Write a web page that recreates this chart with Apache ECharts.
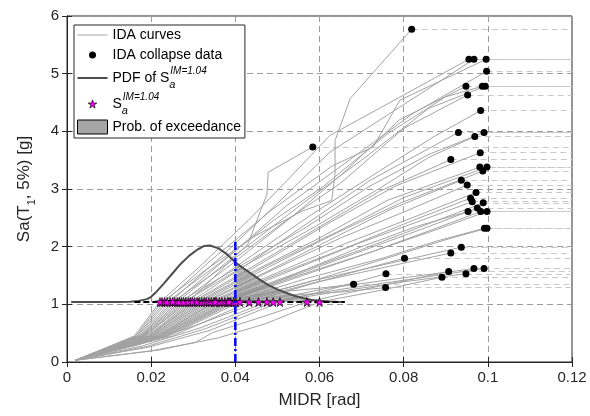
<!DOCTYPE html>
<html>
<head>
<meta charset="utf-8">
<title>IDA</title>
<script src="https://cdn.jsdelivr.net/npm/echarts@6/dist/echarts.min.js"></script>
<style>
html,body{margin:0;padding:0;background:#fff;}
#main{width:590px;height:416px;}
</style>
</head>
<body>
<div id="main"></div>
<script>
// IM level of the PDF / stars
var imLevel = 1.04;
var imDrift = 0.04;       // vertical blue line
var imLineTop = 2.13;
var dashStart = 0.016, dashEnd = 0.066;   // black dashed line at 1.04
var xMax = 0.12;
var origin = [0.002, 0.03];

// collapse points (end of each IDA curve)
var collapseX = [0.0819,0.0996,0.0967,0.0955,0.0997,0.0994,0.0987,0.0948,0.0952,0.0983,0.0991,0.0930,0.0969,0.0584,0.0982,0.0912,0.0998,0.0981,0.0988,0.0937,0.0951,0.0972,0.0959,0.0963,0.0989,0.0975,0.0983,0.0998,0.0953,0.0992,0.0998,0.0937,0.0912,0.0802,0.0967,0.0991,0.0948,0.0758,0.0907,0.0891,0.0681,0.0757];
var collapseY = [5.77,5.25,5.25,5.25,5.04,4.78,4.78,4.78,4.63,4.36,3.98,3.98,3.91,3.73,3.63,3.51,3.38,3.38,3.31,3.15,3.07,2.94,2.84,2.78,2.76,2.67,2.61,2.61,2.61,2.32,2.32,1.99,1.89,1.80,1.62,1.62,1.53,1.53,1.57,1.47,1.35,1.29];

// drift where each curve reaches Sa = 1.04 (stars)
var starX = [0.0226,0.0232,0.0245,0.0221,0.0256,0.0262,0.0238,0.0272,0.0251,0.0282,0.0267,0.0293,0.0277,0.0288,0.0303,0.0298,0.0314,0.0309,0.0320,0.0326,0.0331,0.0337,0.0343,0.0349,0.0355,0.0362,0.0368,0.0375,0.0382,0.0389,0.0396,0.0401,0.0411,0.0433,0.0455,0.0475,0.0490,0.0506,0.0570,0.0600,0.0352,0.0385];

// vertices below 1.04 for each curve
var lowerPts = [
  [[0.0163,0.45]],[[0.0166,0.45]],[[0.0171,0.45]],[[0.0160,0.45]],[[0.0176,0.45]],
  [[0.0178,0.45]],[[0.0168,0.45]],[[0.0182,0.45]],[[0.0173,0.45]],[[0.0187,0.45]],
  [[0.0180,0.45]],[[0.0191,0.45]],[[0.0185,0.45]],[[0.0184,0.45]],[[0.0196,0.45]],
  [[0.0193,0.45]],[[0.0199,0.45]],[[0.0194,0.45]],[[0.0202,0.45]],[[0.0200,0.45]],
  [[0.0207,0.45]],[[0.0205,0.45]],[[0.0211,0.45]],[[0.0215,0.45]],[[0.0213,0.45]],
  [[0.0219,0.45]],[[0.0221,0.45]],[[0.0225,0.45]],[[0.0222,0.45]],[[0.0229,0.45]],
  [[0.0233,0.45]],[[0.0237,0.45]],[[0.0241,0.45]],[[0.0250,0.45]],
  [[0.0170,0.30],[0.0300,0.62]],
  [[0.0180,0.28],[0.0320,0.60]],
  [[0.0190,0.27],[0.0330,0.58]],
  [[0.0195,0.26],[0.0340,0.55]],
  [[0.0198,0.19],[0.0305,0.34],[0.0346,0.51],[0.0450,0.75]],
  [[0.0220,0.21],[0.0360,0.42],[0.0470,0.66]],
  [[0.0216,0.45]],[[0.0231,0.45]]
];

// vertices between 1.04 and collapse for each curve
var upperPts = [
  [[0.0330,1.60],[0.0450,2.20],[0.0560,2.62],[0.0629,2.80],[0.0637,3.26],[0.0637,3.84],[0.0673,4.57]],
  [[0.0340,1.75],[0.0480,2.60],[0.0630,3.40],[0.0728,3.73],[0.0791,4.54]],
  [[0.0370,1.85],[0.0500,2.75],[0.0625,3.64]],
  [[0.0310,1.62],[0.0430,2.45],[0.0530,3.20],[0.0625,3.93]],
  [[0.0380,1.80],[0.0520,2.70],[0.0680,3.55],[0.0820,4.30]],
  [[0.0400,1.85],[0.0560,2.75],[0.0700,3.50],[0.0860,4.40]],
  [[0.0360,1.70],[0.0490,2.45],[0.0610,3.05],[0.0760,3.95],[0.0900,4.60]],
  [[0.0410,1.80],[0.0540,2.55],[0.0660,3.30],[0.0790,4.20]],
  [[0.0390,1.75],[0.0520,2.45],[0.0650,3.10],[0.0800,4.05]],
  [[0.0430,1.80],[0.0580,2.55],[0.0740,3.30],[0.0870,3.90]],
  [[0.0420,1.70],[0.0560,2.30],[0.0720,3.05],[0.0860,3.60]],
  [[0.0440,1.75],[0.0580,2.45],[0.0720,3.15]],
  [[0.0430,1.70],[0.0590,2.35],[0.0740,3.00],[0.0860,3.55]],
  [[0.0360,1.55],[0.0430,2.05],[0.0475,2.91],[0.0478,3.29]],
  [[0.0460,1.70],[0.0620,2.40],[0.0780,3.05]],
  [[0.0440,1.65],[0.0590,2.30],[0.0740,2.95]],
  [[0.0470,1.65],[0.0640,2.25],[0.0800,2.85]],
  [[0.0450,1.60],[0.0600,2.15],[0.0760,2.80]],
  [[0.0480,1.65],[0.0630,2.20],[0.0790,2.75]],
  [[0.0470,1.55],[0.0620,2.10],[0.0770,2.65]],
  [[0.0490,1.60],[0.0650,2.15],[0.0800,2.60]],
  [[0.0500,1.55],[0.0660,2.05],[0.0820,2.50]],
  [[0.0510,1.55],[0.0670,2.00],[0.0820,2.45]],
  [[0.0520,1.55],[0.0690,2.05],[0.0840,2.45]],
  [[0.0530,1.50],[0.0700,1.95],[0.0860,2.40]],
  [[0.0540,1.50],[0.0710,1.95],[0.0860,2.35]],
  [[0.0550,1.50],[0.0720,1.90],[0.0870,2.30]],
  [[0.0560,1.50],[0.0740,1.95],[0.0880,2.30]],
  [[0.0550,1.55],[0.0700,2.00],[0.0830,2.35]],
  [[0.0570,1.45],[0.0750,1.80],[0.0880,2.10]],
  [[0.0580,1.40],[0.0760,1.80],[0.0900,2.12]],
  [[0.0580,1.40],[0.0760,1.70]],
  [[0.0590,1.38],[0.0760,1.65]],
  [[0.0580,1.35],[0.0700,1.60]],
  [[0.0620,1.28],[0.0800,1.46]],
  [[0.0650,1.26],[0.0830,1.45]],
  [[0.0660,1.24],[0.0810,1.40]],
  [[0.0620,1.25]],
  [[0.0700,1.25]],
  [[0.0750,1.25]],
  [[0.0480,1.20],[0.0600,1.28]],
  [[0.0520,1.15],[0.0660,1.22]]
];

// PDF of Sa at IM = 1.04 (drawn on top of the 1.04 baseline)
var pdfX = [0.001,0.012,0.015,0.017,0.019,0.020,0.021,0.023,0.025,0.027,0.029,0.031,0.0325,0.034,0.036,0.038,0.040,0.042,0.044,0.046,0.048,0.050,0.052,0.054,0.056,0.058,0.060,0.062,0.064,0.066];
var pdfY = [1.04,1.04,1.045,1.06,1.09,1.13,1.20,1.36,1.53,1.70,1.84,1.95,2.01,2.02,1.97,1.87,1.73,1.62,1.52,1.42,1.33,1.26,1.20,1.15,1.11,1.08,1.06,1.05,1.043,1.04];

var fontFam = '"Liberation Sans", Arial, Helvetica, sans-serif';
var starPath = 'path://M50 0L61 35L98 35L68 57L79 91L50 70L21 91L32 57L2 35L39 35Z';
var series = [];

// dashed continuation after collapse
var flatData = collapseX.map(function (cx, i) {
  return { coords: [[cx, collapseY[i]], [xMax, collapseY[i]]] };
});
series.push({
  type: 'lines', coordinateSystem: 'cartesian2d', name: 'flat', silent: true,
  data: flatData,
  lineStyle: { color: '#c9c9c9', width: 1.2, type: [6, 4], opacity: 1 },
  z: 1
});

// IDA curves
collapseX.forEach(function (cx, i) {
  var pts = [origin].concat(lowerPts[i], [[starX[i], imLevel]], upperPts[i], [[cx, collapseY[i]]]);
  series.push({
    type: 'line', name: 'IDA curves', data: pts, showSymbol: false, symbol: 'none',
    lineStyle: { color: '#a3a3a3', width: 1 }, itemStyle: { color: '#a3a3a3' },
    z: 2, animation: false
  });
});

var pdfData = pdfX.map(function (x, i) { return [x, pdfY[i]]; });
var tailData = pdfData.filter(function (p) { return p[0] >= imDrift; });

// shaded exceedance area: one slice per PDF segment, between the tail and 1.04
series.push({
  type: 'custom', name: 'Prob. of exceedance', data: tailData,
  itemStyle: { color: '#a6a6a6' }, z: 3,
  renderItem: function (params, api) {
    var i = params.dataIndex;
    if (i >= tailData.length - 1) return;
    var a = tailData[i], b = tailData[i + 1];
    return { type: 'polygon',
      shape: { points: [api.coord(a), api.coord(b), api.coord([b[0], imLevel]), api.coord([a[0], imLevel])] },
      style: { fill: '#8c8c8c', opacity: 0.6 } };
  }
});
series.push({
  type: 'line', name: 'PDF', data: pdfData, symbol: 'none',
  lineStyle: { color: '#4d4d4d', width: 2 }, itemStyle: { color: '#4d4d4d' }, z: 4
});
series.push({
  type: 'line', name: 'base', data: [[dashStart, imLevel], [dashEnd, imLevel]], symbol: 'none',
  lineStyle: { color: '#000', width: 2, type: [6, 3] }, z: 5, silent: true
});
series.push({
  type: 'scatter', name: 'Sa', data: starX.map(function (x) { return [x, imLevel]; }),
  symbol: starPath, symbolSize: 9,
  itemStyle: { color: '#ff00ff', borderColor: '#000', borderWidth: 0.7, opacity: 1 }, z: 6
});
series.push({
  type: 'scatter', name: 'IDA collapse data',
  data: collapseX.map(function (x, i) { return [x, collapseY[i]]; }),
  symbol: 'circle', symbolSize: 7, itemStyle: { color: '#000', opacity: 1 }, z: 7
});
series.push({
  type: 'line', name: 'im', data: [[imDrift, 0], [imDrift, imLineTop]], symbol: 'none',
  lineStyle: { color: '#0000ff', width: 2.5, type: [8, 3, 2, 3] }, z: 8, silent: true
});

var legendText = {
  'IDA curves': 'IDA curves',
  'IDA collapse data': 'IDA collapse data',
  'PDF': 'PDF of S{sb|a}{sp|IM=1.04}',
  'Sa': 'S{sb|a}{sp|IM=1.04}',
  'Prob. of exceedance': 'Prob. of exceedance'
};

var chart = echarts.init(document.getElementById('main'), null, { renderer: 'canvas' });
var axisCommon = {
  axisLine: { lineStyle: { color: '#262626', width: 1 } },
  axisTick: { inside: true, length: 5, lineStyle: { color: '#262626' } }
};
chart.setOption({
  animation: false,
  backgroundColor: '#fff',
  textStyle: { fontFamily: fontFam },
  grid: { left: 67, right: 18, top: 16, bottom: 54, show: true, borderColor: '#262626', borderWidth: 1 },
  legend: {
    orient: 'vertical', left: 74, top: 25,
    backgroundColor: '#fff', borderColor: '#262626', borderWidth: 1,
    padding: [1, 4, 2, 3], itemGap: 2, itemWidth: 30, itemHeight: 14,
    formatter: function (n) { return legendText[n]; },
    textStyle: {
      fontFamily: fontFam, fontSize: 14, color: '#000', lineHeight: 18,
      rich: {
        sb: { fontSize: 11, fontStyle: 'italic', fontFamily: fontFam, verticalAlign: 'bottom', lineHeight: 24, width: 1 },
        sp: { fontSize: 10, fontStyle: 'italic', fontFamily: fontFam, verticalAlign: 'top', lineHeight: 24 }
      }
    },
    data: [
      { name: 'IDA curves', icon: 'path://M0 0M30 14M0 6.5L30 6.5L30 7.5L0 7.5Z', itemStyle: { color: '#a3a3a3', borderWidth: 0 } },
      { name: 'IDA collapse data', icon: 'path://M0 0M30 14M11.5 7A3.5 3.5 0 1 1 18.5 7A3.5 3.5 0 1 1 11.5 7Z', itemStyle: { color: '#000', borderWidth: 0 } },
      { name: 'PDF', icon: 'path://M0 0M30 14M0 6L30 6L30 8L0 8Z', itemStyle: { color: '#4d4d4d', borderWidth: 0 } },
      { name: 'Sa', icon: 'path://M0 0M30 14M15 2.9L16 6.05L19.3 6.05L16.6 8L17.6 11.1L15 9.2L12.4 11.1L13.4 8L10.7 6.05L14 6.05Z',
        itemStyle: { color: '#ff00ff', borderColor: '#000', borderWidth: 0.7 } },
      { name: 'Prob. of exceedance', icon: 'rect', itemStyle: { color: '#a6a6a6', borderColor: '#000', borderWidth: 1 } }
    ]
  },
  xAxis: [{
    type: 'value', min: 0, max: xMax, interval: 0.02,
    name: 'MIDR [rad]', nameLocation: 'middle', nameGap: 30,
    nameTextStyle: { fontSize: 17, color: '#262626', fontFamily: fontFam },
    axisLabel: { fontSize: 15, color: '#262626', margin: 8, fontFamily: fontFam,
      formatter: function (v) { return String(Math.round(v * 100) / 100); } },
    splitLine: { show: true, lineStyle: { color: '#9b9b9b', type: [6, 4], width: 1 } },
    axisLine: axisCommon.axisLine, axisTick: axisCommon.axisTick
  }, {
    type: 'value', min: 0, max: xMax, interval: 0.02, position: 'top',
    axisLabel: { show: false }, splitLine: { show: false },
    axisLine: axisCommon.axisLine, axisTick: axisCommon.axisTick
  }],
  yAxis: [{
    type: 'value', min: 0, max: 6, interval: 1,
    name: 'Sa(T{s|1}, 5%) [g]', nameLocation: 'middle', nameGap: 30, nameRotate: 90,
    nameTextStyle: { fontSize: 17, color: '#262626', fontFamily: fontFam,
      rich: { s: { fontSize: 11, fontFamily: fontFam, color: '#262626', verticalAlign: 'bottom', lineHeight: 26 } } },
    axisLabel: { fontSize: 15, color: '#262626', margin: 8, fontFamily: fontFam },
    splitLine: { show: true, lineStyle: { color: '#9b9b9b', type: [6, 4], width: 1 } },
    axisLine: axisCommon.axisLine, axisTick: axisCommon.axisTick
  }, {
    type: 'value', min: 0, max: 6, interval: 1, position: 'right',
    axisLabel: { show: false }, splitLine: { show: false },
    axisLine: axisCommon.axisLine, axisTick: axisCommon.axisTick
  }],
  series: series
});
// second pass so the custom area is laid out against the final axes
chart.setOption({ graphic: [] });
</script>
</body>
</html>
